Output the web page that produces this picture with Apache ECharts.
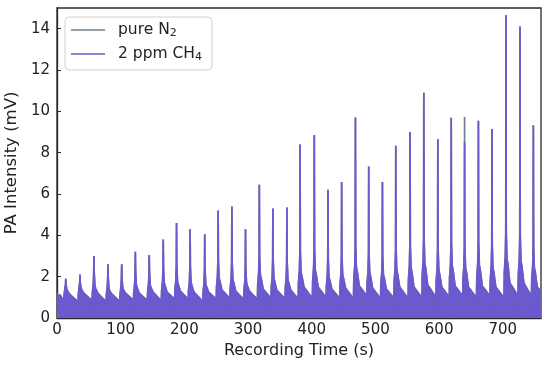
<!DOCTYPE html>
<html>
<head>
<meta charset="utf-8">
<script src="https://cdn.jsdelivr.net/npm/echarts@6/dist/echarts.min.js"></script>
<style>html,body{margin:0;padding:0;background:#fff}#c{width:550px;height:369px}</style>
</head>
<body>
<div id="c"></div>
<script>
// Peak times (s)
var peakT = [13.7, 36, 58, 80, 101.6, 123, 144.8, 166.8, 187.7, 209, 232, 253, 274.6, 296, 317.7, 339, 361, 381.7, 404, 425.5, 447, 468.6, 489.5, 511, 532, 554.4, 576, 598, 619, 640, 661.7, 683, 705, 727, 748];
// Peak heights (mV), 2 ppm CH4
var peakCH4 = [1.9, 2.1, 3.0, 2.6, 2.6, 3.2, 3.05, 3.8, 4.6, 4.3, 4.05, 5.2, 5.4, 4.3, 6.45, 5.3, 5.35, 8.4, 8.85, 6.2, 6.58, 9.7, 7.33, 6.58, 8.33, 9.0, 10.9, 8.65, 9.69, 8.5, 9.54, 9.14, 14.65, 14.1, 9.33];
// Peak heights (mV), pure N2
var peakN2 = [1.9, 2.1, 3.0, 2.6, 2.6, 3.2, 3.05, 3.8, 4.6, 4.3, 4.05, 5.2, 5.4, 4.3, 6.45, 5.3, 5.35, 8.4, 8.85, 6.2, 6.58, 9.7, 7.33, 6.58, 8.33, 9.0, 10.9, 8.65, 9.69, 9.72, 9.54, 9.14, 14.65, 14.1, 9.33];
// Level at the base of each peak (mV)
var shoulderV = [1.3, 1.35, 1.4, 1.3, 1.35, 1.45, 1.45, 1.55, 1.6, 1.55, 1.5, 1.75, 1.7, 1.55, 1.9, 1.75, 1.7, 2.0, 2.1, 1.8, 1.9, 2.2, 2.0, 1.9, 2.1, 2.2, 2.4, 2.1, 2.3, 2.2, 2.3, 2.2, 2.6, 2.5, 2.2];
// Plateau level a few seconds after each peak (mV)
var plateauV = [1.15, 1.2, 1.2, 1.15, 1.2, 1.2, 1.25, 1.25, 1.3, 1.25, 1.25, 1.35, 1.3, 1.3, 1.4, 1.35, 1.35, 1.5, 1.5, 1.4, 1.45, 1.55, 1.45, 1.4, 1.5, 1.5, 1.6, 1.5, 1.55, 1.5, 1.55, 1.5, 1.7, 1.7, 1.5];
// Late level before the next dip (mV)
var lateV = [0.85, 0.9, 0.85, 0.85, 0.9, 0.9, 0.9, 0.95, 0.95, 0.9, 0.95, 1.0, 0.95, 0.95, 1.0, 1.0, 0.95, 1.05, 1.05, 1.0, 1.0, 1.1, 1.0, 1.0, 1.05, 1.05, 1.1, 1.05, 1.1, 1.05, 1.1, 1.05, 1.15, 1.1, 1.1];
// Start and end of record
var startV = [[0, 1.15], [5, 1.1], [9, 0.9]];
var endV = [[760, 1.25]];
var xTicks = [0, 100, 200, 300, 400, 500, 600, 700];
var yTicks = [0, 2, 4, 6, 8, 10, 12, 14];

function build(peaks) {
  var d = startV.slice();
  for (var i = 0; i < peakT.length; i++) {
    var p = peakT[i], s = shoulderV[i];
    var near = Math.min(s * 1.6, (peaks[i] + s) / 2);
    d.push([p - 3.4, 0.08]);
    d.push([p - 2.5, s * 0.85]);
    d.push([p - 1.0, s * 1.15]);
    d.push([p - 0.3, near]);
    d.push([p, peaks[i]]);
    d.push([p + 0.4, near]);
    d.push([p + 1.5, s * 1.1]);
    d.push([p + 3.0, s]);
    d.push([p + 6.0, plateauV[i]]);
    d.push([p + 11.5, (plateauV[i] + lateV[i]) / 2]);
    if (i < peakT.length - 1) d.push([p + 16.8, lateV[i]]);
  }
  return d.concat(endV);
}

var chart = echarts.init(document.getElementById('c'), null, {renderer: 'canvas'});
var font = 'DejaVu Sans';
chart.setOption({
  animation: false,
  grid: {left: 57, right: 9, top: 8, bottom: 51, outerBoundsMode: 'none', containLabel: false,
    show: true, borderColor: '#2a2a2a', borderWidth: 1.3, backgroundColor: 'transparent'},
  legend: {
    left: 65, top: 17, orient: 'vertical',
    backgroundColor: '#fff', borderColor: '#d0d0d0', borderWidth: 1, borderRadius: 4,
    padding: [4, 10, 7, 6], itemGap: 6, itemWidth: 34, itemHeight: 1.6, icon: 'rect',
    data: ['pure N2', '2 ppm CH4'],
    formatter: function (n) { return n === 'pure N2' ? '{a|pure N}{s|2}' : '{a|2 ppm CH}{s|4}'; },
    textStyle: {
      fontFamily: font, fontSize: 15.5, color: '#222',
      rich: {
        a: {fontFamily: font, fontSize: 15.5, color: '#222', padding: [0, 0, 0, 8], lineHeight: 18},
        s: {fontFamily: font, fontSize: 11, color: '#222', padding: [7, 0, 0, 0], lineHeight: 18, verticalAlign: 'bottom'}
      }
    }
  },
  xAxis: {
    type: 'value', min: 0, max: 760, interval: 100,
    name: 'Recording Time (s)', nameLocation: 'middle', nameGap: 24,
    nameTextStyle: {fontFamily: font, fontSize: 16, color: '#222'},
    axisLine: {show: true, lineStyle: {color: '#2a2a2a', width: 1.3}},
    axisTick: {show: true, inside: true, length: 4, lineStyle: {color: '#2a2a2a'}},
    axisLabel: {fontFamily: font, fontSize: 15, color: '#222', margin: 5, showMaxLabel: false,
      formatter: function (v) { return xTicks.indexOf(v) >= 0 ? String(v) : ''; }},
    splitLine: {show: false}
  },
  yAxis: {
    type: 'value', min: 0, max: 15, interval: 2,
    name: 'PA Intensity (mV)', nameLocation: 'middle', nameGap: 33,
    nameTextStyle: {fontFamily: font, fontSize: 16.5, color: '#222'},
    axisLine: {show: true, lineStyle: {color: '#2a2a2a', width: 1.3}},
    axisTick: {show: true, inside: true, length: 4, lineStyle: {color: '#2a2a2a'}},
    axisLabel: {fontFamily: font, fontSize: 15, color: '#222', margin: 7, showMaxLabel: false,
      formatter: function (v) { return yTicks.indexOf(v) >= 0 ? String(v) : ''; }},
    splitLine: {show: false}
  },
  series: [
    {name: 'pure N2', type: 'line', data: build(peakN2), symbol: 'none', sampling: null,
      lineStyle: {color: '#708090', width: 1.7}, itemStyle: {color: '#708090'},
      areaStyle: {color: '#708090', opacity: 1}, z: 2},
    {name: '2 ppm CH4', type: 'line', data: build(peakCH4), symbol: 'none', sampling: null,
      lineStyle: {color: '#6a5acd', width: 1.7}, itemStyle: {color: '#6a5acd'},
      areaStyle: {color: '#6a5acd', opacity: 1}, z: 3}
  ]
});
</script>
</body>
</html>
